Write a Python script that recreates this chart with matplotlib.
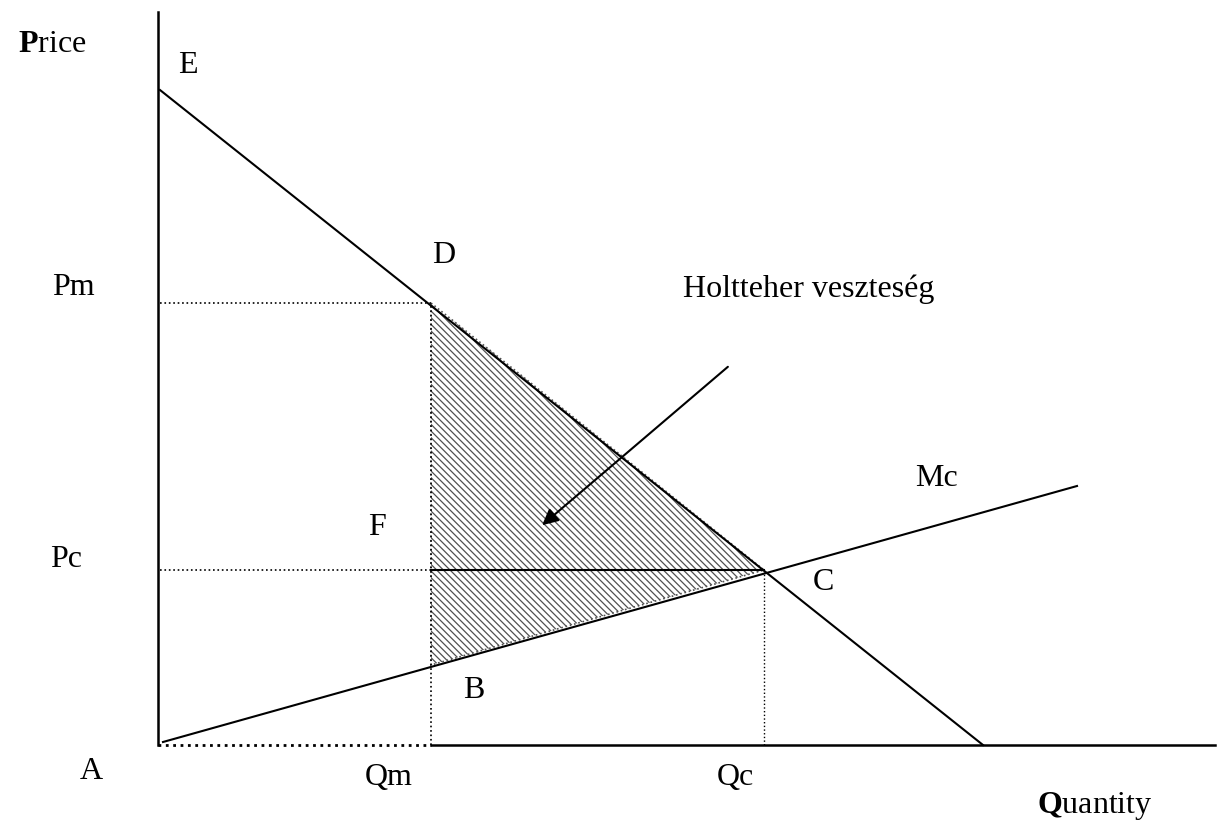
import matplotlib.pyplot as plt
from matplotlib.patches import Polygon

plt.rcParams['font.family'] = ['Liberation Serif', 'DejaVu Serif']
plt.rcParams['mathtext.fontset'] = 'custom'
plt.rcParams['mathtext.bf'] = 'Liberation Serif:bold'
plt.rcParams['mathtext.rm'] = 'Liberation Serif'
plt.rcParams['hatch.color'] = '#505050'
plt.rcParams['hatch.linewidth'] = 0.9

# economic quantities, in the chart's own units (origin at A)
demand_q = [0, 823]
demand_p = [655, 0]
mc_q = [3, 917]
mc_p = [3, 259]

q_m = 271
q_c = 604
p_m = 442
p_c = 175
p_b = 80

q_axis_end = 1055
p_axis_end = 733

# point labels: (text, q, p) - baseline positions
labels = [
    ('E', 18, 672),
    ('D', 272, 482),
    ('Pm', -108, 450),
    ('Holtteher veszteség', 523, 448),
    ('Mc', 755, 259),
    ('F', 208, 210),
    ('Pc', -110, 178),
    ('C', 653, 155),
    ('B', 303, 47),
    ('A', -80, -34),
    ('Qm', 205, -40),
    ('Qc', 557, -40),
    (r'$\mathbf{P}$rice', -142, 693),
    (r'$\mathbf{Q}$uantity', 877, -68),
]

fig = plt.figure(figsize=(12.23, 8.23), dpi=100)
ax = fig.add_axes([0, 0, 1, 1])
ax.set_xlim(-160, 1063)
ax.set_ylim(-78, 745)
ax.axis('off')

# deadweight loss triangle D-C-B
tri = Polygon([(q_m, p_m), (q_c, p_c), (q_m, p_b)], closed=True,
              facecolor='white', edgecolor='#505050', hatch='\\' * 5,
              linestyle=':', lw=1.2)
ax.add_patch(tri)

# axes
ax.plot([-2, -2], [0, p_axis_end], color='black', lw=1.8)
ax.plot([q_m, q_axis_end], [0, 0], color='black', lw=1.8)
ax.plot([-2, q_m], [0, 0], color='black', lw=2, linestyle=':')

# demand and marginal cost
ax.plot(demand_q, demand_p, color='black', lw=1.5)
ax.plot(mc_q, mc_p, color='black', lw=1.5)

# guide lines
ax.plot([0, q_m], [p_m, p_m], color='black', lw=1.2, linestyle=':')
ax.plot([0, q_m], [p_c, p_c], color='black', lw=1.2, linestyle=':')
ax.plot([q_m, q_c], [p_c, p_c], color='black', lw=1.5)
ax.plot([q_m, q_m], [0, p_m], color='black', lw=1.2, linestyle=':')
ax.plot([q_c, q_c], [0, p_c], color='black', lw=1, linestyle=':')

# arrow into the triangle
ax.annotate('', xy=(380, 218), xytext=(570, 380),
            arrowprops=dict(arrowstyle='-|>', color='black', lw=1.5,
                            mutation_scale=24))

for txt, q, p in labels:
    ax.text(q, p, txt, fontsize=23, ha='left', va='baseline')

fig.savefig('out.png', dpi=100, facecolor='white')
